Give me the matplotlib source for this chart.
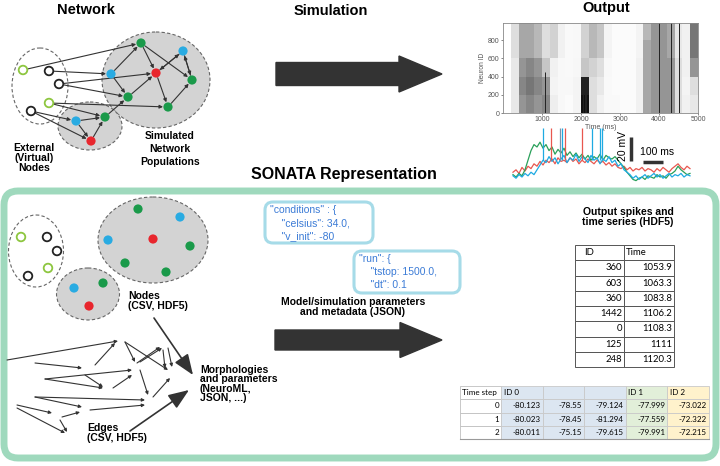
import numpy as np
import matplotlib.pyplot as plt
from matplotlib.patches import Ellipse, Circle, FancyBboxPatch, FancyArrowPatch, Rectangle

plt.rcParams['font.family'] = ['Liberation Sans', 'DejaVu Sans']

# ---------------- data ----------------
# top network: nodes (x, y, kind); kinds: G/K = open external, g/b/r = filled
net_nodes = [(23, 70, 'G'), (49, 71, 'K'), (59, 84, 'K'), (49, 103, 'G'), (31, 111, 'K'),
             (141, 43, 'g'), (183, 51, 'b'), (156, 73, 'r'), (111, 74, 'b'), (192, 80, 'g'),
             (128, 97, 'g'), (168, 107, 'g'), (76, 121, 'b'), (105, 117, 'g'), (91, 141, 'r')]
net_edges = [(0, 5), (1, 8), (2, 7), (2, 10), (3, 11), (3, 13), (4, 12), (4, 14),
             (5, 7), (8, 5), (5, 9), (7, 6), (6, 7), (6, 9), (9, 6), (8, 10), (10, 7),
             (7, 11), (11, 9), (13, 10), (12, 13), (14, 13), (12, 14)]
net_groups = [(40, 86, 56, 76, 'white'), (156, 80, 108, 96, '#d3d3d3'), (90, 126, 64, 48, '#d3d3d3')]

# bottom-left nodes
bl_nodes = [(21, 237, 'G'), (47, 237, 'K'), (57, 251, 'K'), (48, 268, 'G'), (28, 276, 'K'),
            (138, 209, 'g'), (180, 217, 'b'), (108, 240, 'b'), (153, 239, 'r'), (190, 246, 'g'),
            (125, 263, 'g'), (166, 272, 'g'), (74, 288, 'b'), (103, 283, 'g'), (89, 306, 'r')]
bl_groups = [(36, 251, 55, 72, 'white'), (153, 240, 110, 86, '#d3d3d3'), (88, 294, 63, 52, '#d3d3d3')]
bl_edges = [(7, 360, 118, 341), (35, 363, 82, 368), (45, 379, 132, 370), (45, 379, 103, 388),
            (35, 397, 82, 407), (35, 397, 145, 400), (17, 405, 52, 413), (17, 408, 65, 433),
            (90, 410, 145, 405), (62, 417, 80, 412), (60, 420, 67, 432), (95, 365, 115, 343),
            (125, 342, 135, 362), (125, 342, 168, 370), (137, 363, 160, 347), (140, 362, 162, 348),
            (163, 350, 165, 368), (168, 348, 172, 367), (140, 370, 148, 395), (153, 397, 170, 378),
            (113, 388, 132, 375), (85, 375, 103, 387)]

# raster density (rows: neuron bins of 200, cols: time bins of 200 ms)
raster_density = np.array([
    [0, .15, .45, .50, .45, .50, .12, .05, .03, .08, .85, .20, .10, .04, .04, .03, .03, .10, .40, .45, .45, .45, .20, .10, .15],
    [0, .15, .50, .55, .50, .45, .08, .05, .05, .08, .80, .20, .15, .04, .03, .03, .03, .10, .40, .45, .45, .45, .20, .08, .20],
    [0, .15, .45, .50, .45, .30, .10, .05, .04, .06, .30, .25, .20, .05, .03, .03, .03, .10, .40, .45, .45, .45, .20, .10, .45],
    [0, .20, .40, .40, .35, .20, .25, .10, .04, .05, .25, .35, .30, .08, .03, .03, .03, .08, .40, .45, .45, .40, .15, .10, .55],
    [0, .20, .40, .40, .35, .20, .25, .10, .04, .05, .25, .35, .30, .08, .03, .03, .03, .08, .35, .45, .45, .40, .15, .10, .55],
])
burst_times = [1080, 2060, 2100, 2140, 4000, 4300, 4520]
burst_tops = [450, 400, 380, 400, 1000, 1000, 1000]

# membrane traces (mV above rest, sampled every 15 ms)
trace_step = 15
trace_cyan = [1, -1, 2, 0, 3, 1, 4, 2, 6, 10, 14, 12, 17, 13, 16, 11, 15, 18, 12, 16, 14, 19, 13, 17, 15, 12, 18, 14, 16, 11,
              15, 13, 17, 12, 14, 9, 11, 6, 4, 2, -1, 1, -2, 0, 2, -1, 1, 3, 0, 2, -1, 1, 3, 0, 2, 1, 3, 0, 2, 1]
trace_green = [2, 0, 3, 1, 6, 14, 22, 27, 25, 29, 24, 27, 22, 25, 19, 23, 20, 24, 18, 21, 17, 20, 16, 19, 15, 18, 14, 17, 15, 19,
               14, 18, 16, 15, 17, 14, 11, 8, 4, 1, -2, -3, -1, 0, -2, 1, 0, -1, 2, 0, 1, -1, 2, 3, 5, 9, 6, 4, 2, 3]
trace_red = [4, 6, 3, 8, 5, 9, 7, 11, 9, 13, 10, 14, 12, 15, 11, 16, 13, 14, 12, 16, 13, 15, 11, 14, 12, 15, 13, 11, 14, 12,
             13, 10, 12, 9, 11, 8, 7, 9, 6, 8, 5, 7, 6, 8, 5, 7, 6, 4, 7, 5, 8, 6, 4, 7, 9, 11, 8, 6, 9, 7]
spike_t = [150, 245, 395, 435, 445, 235, 190, 260, 345]
spike_c = ['#1eaae2'] * 5 + ['#8090a8'] + ['#e8574f'] * 3

# spike table
spike_ids = [360, 603, 360, 1442, 0, 125, 248]
spike_times = [1053.9, 1063.3, 1083.8, 1106.2, 1108.3, 1111, 1120.3]

# time-series table
ts_steps = [0, 1, 2]
ts_headers = ['ID 0', '', '', 'ID 1', 'ID 2']
ts_values = [[-80.123, -78.55, -79.124, -77.999, -73.022],
             [-80.023, -78.45, -81.294, -77.559, -72.322],
             [-80.011, -75.15, -79.615, -79.991, -72.215]]
ts_fills = ['#dce6f1', '#dce6f1', '#dce6f1', '#e2efd9', '#fff2cc']

json_cond = ['"conditions" : {', '    "celsius": 34.0,', '    "v_init": -80']
json_run = ['"run": {', '    "tstop: 1500.0,', '    "dt": 0.1']

node_col = {'g': '#1a9a4a', 'b': '#29abe2', 'r': '#e8262d', 'G': '#8dc63f', 'K': '#222222'}
dark = '#333333'

# ---------------- figure ----------------
fig = plt.figure(figsize=(7.2, 4.66), dpi=100)
ax = fig.add_axes([0, 0, 1, 1])
ax.set_xlim(0, 720)
ax.set_ylim(466, 0)
ax.axis('off')


def draw_groups(groups):
    for x, y, w, h, fc in groups:
        ax.add_patch(Ellipse((x, y), w, h, fc=fc, ec='#666666', lw=0.8, ls=(0, (3, 2)), zorder=1))


def draw_nodes(nodes):
    for x, y, k in nodes:
        if k in 'GK':
            ax.add_patch(Circle((x, y), 4.3, fc='white', ec=node_col[k], lw=1.3, zorder=4))
        else:
            ax.add_patch(Circle((x, y), 4.6, fc=node_col[k], ec='none', zorder=4))


def arrow(p, q, ms=5, lw=0.8, shrink=0, style='-|>', z=3):
    ax.add_patch(FancyArrowPatch(p, q, arrowstyle=style, mutation_scale=ms, lw=lw,
                                 color=dark, shrinkA=shrink, shrinkB=shrink, zorder=z))


# top network
draw_groups(net_groups)
for a, b in net_edges:
    p = net_nodes[a][:2]
    q = net_nodes[b][:2]
    arrow(p, q, shrink=3.6)
draw_nodes(net_nodes)

ax.text(86, 10, 'Network', ha='center', va='center', fontsize=10.5, fontweight='bold')
ax.text(331, 11, 'Simulation', ha='center', va='center', fontsize=10.5, fontweight='bold')
ax.text(606, 8, 'Output', ha='center', va='center', fontsize=10.5, fontweight='bold')
ax.text(34, 158, 'External\n(Virtual)\nNodes', ha='center', va='center', fontsize=7.5,
        fontweight='bold', linespacing=1.0)
ax.text(170, 149, 'Simulated\nNetwork\nPopulations', ha='center', va='center', fontsize=7.5,
        fontweight='bold', linespacing=1.35)

# big arrows
ax.arrow(276, 74, 166, 0, width=23, head_width=36, head_length=43, length_includes_head=True,
         color=dark, zorder=2)
ax.arrow(275, 340, 167, 0, width=20, head_width=35, head_length=42, length_includes_head=True,
         color=dark, zorder=2)

# raster plot
rax = fig.add_axes([503 / 720, 1 - 113 / 466, 195 / 720, 90 / 466])
rax.imshow(raster_density, cmap='Greys', vmin=0, vmax=0.9, aspect='auto', origin='lower',
           extent=[0, 5000, 0, 1000], interpolation='nearest')
rax.vlines(burst_times, 0, burst_tops, color='#222222', lw=0.7)
rax.set_xlim(0, 5000)
rax.set_ylim(0, 990)
rax.set_xticks([1000, 2000, 3000, 4000, 5000])
rax.set_yticks([0, 200, 400, 600, 800])
rax.tick_params(labelsize=5, length=1.5, width=0.5, pad=1, colors='#555555')
rax.set_xlabel('Time (ms)', fontsize=5, labelpad=0.5, color='#555555')
rax.set_ylabel('Neuron ID', fontsize=4.8, labelpad=1, color='#555555')
for s in rax.spines.values():
    s.set_color('#888888')
    s.set_linewidth(0.6)

# traces
tax = fig.add_axes([510 / 720, 1 - 187 / 466, 185 / 720, 62 / 466])
tax.set_xlim(-15, 910)
tax.set_ylim(-8.3, 43.3)
tax.axis('off')
for vals, c in [(trace_red, '#e8574f'), (trace_green, '#2aa05a'), (trace_cyan, '#1eaae2')]:
    t = np.arange(len(vals)) * trace_step
    tax.plot(t, vals, color=c, lw=0.9)
tax.vlines(spike_t, 14, 41, colors=spike_c, lw=0.9)
tax.plot([590, 590], [13, 33], color=dark, lw=2.5, solid_capstyle='butt')
tax.plot([650, 750], [12.8, 12.8], color=dark, lw=2.5, solid_capstyle='butt')
tax.text(548, 26, '20 mV', rotation=90, ha='center', va='center', fontsize=7.5)
tax.text(722, 20.5, '100 ms', ha='center', va='center', fontsize=7.5)

# SONATA frame
ax.text(344, 174, 'SONATA Representation', ha='center', va='center', fontsize=11.5, fontweight='bold')
ax.add_patch(FancyBboxPatch((4, 191), 712, 267, boxstyle='round,pad=0,rounding_size=14',
                            fc='none', ec='#9fd9bd', lw=5, zorder=0.5))

# bottom-left nodes and edges
draw_groups(bl_groups)
draw_nodes(bl_nodes)
for x1, y1, x2, y2 in bl_edges:
    arrow((x1, y1), (x2, y2), ms=4.5, lw=0.8)

ax.text(128, 301, 'Nodes\n(CSV, HDF5)', ha='left', va='center', fontsize=7.5, fontweight='bold',
        linespacing=0.95)
ax.text(87, 433, 'Edges\n(CSV, HDF5)', ha='left', va='center', fontsize=7.5, fontweight='bold',
        linespacing=0.95)
ax.text(200, 384, 'Morphologies\nand parameters\n(NeuroML,\nJSON, ...)', ha='left', va='center',
        fontsize=7.5, fontweight='bold', linespacing=0.95)
arrow((154, 318), (193, 375), ms=14, lw=1.2, style='-|>,head_length=0.9,head_width=0.35')
arrow((130, 431), (189, 390), ms=14, lw=1.2, style='-|>,head_length=0.9,head_width=0.35')

# JSON boxes
for (x0, y0, w, h), lines in [((265, 202, 108, 41), json_cond), ((354, 251, 106, 42), json_run)]:
    ax.add_patch(FancyBboxPatch((x0, y0), w, h, boxstyle='round,pad=0,rounding_size=8',
                                fc='white', ec='#a6dbe8', lw=2.2, zorder=2))
    for i, line in enumerate(lines):
        ax.text(x0 + 5, y0 + 8 + i * 13, line, ha='left', va='center', fontsize=7.5,
                color='#3b7bd6', zorder=3)

ax.text(353, 307, 'Model/simulation parameters\nand metadata (JSON)', ha='center', va='center',
        fontsize=7.5, fontweight='bold', linespacing=1.0)
ax.text(628, 217, 'Output spikes and\ntime series (HDF5)', ha='center', va='center',
        fontsize=7.5, fontweight='bold', linespacing=1.0)

# spike table
tfont = ['Lato', 'DejaVu Sans']
sx0, sx1, sx2 = 575, 624, 674
sy0, rh = 245, 15.25
for r in range(len(spike_ids) + 1):
    y = sy0 + r * rh
    ax.add_patch(Rectangle((sx0, y), sx1 - sx0, rh, fc='white', ec='#555555', lw=0.7, zorder=2))
    ax.add_patch(Rectangle((sx1, y), sx2 - sx1, rh, fc='white', ec='#555555', lw=0.7, zorder=2))
ax.text(sx0 + 9, sy0 + rh / 2, 'ID', ha='left', va='center', fontsize=6.8, family=tfont, zorder=3)
ax.text(sx1 + 2, sy0 + rh / 2, 'Time', ha='left', va='center', fontsize=6.8, family=tfont, zorder=3)
for i, (sid, st) in enumerate(zip(spike_ids, spike_times)):
    y = sy0 + (i + 1.5) * rh
    ax.text(sx1 - 2, y, f'{sid}', ha='right', va='center', fontsize=6.8, family=tfont, zorder=3)
    ax.text(sx2 - 2, y, f'{st:g}', ha='right', va='center', fontsize=6.8, family=tfont, zorder=3)

# time-series table
cx0, cw = 459.5, 41.5
ty0, th = 386, 13.3
for r in range(len(ts_steps) + 1):
    y = ty0 + r * th
    ax.add_patch(Rectangle((cx0, y), cw, th, fc='white', ec='#bfbfbf', lw=0.6, zorder=2))
    for c, fc in enumerate(ts_fills):
        ax.add_patch(Rectangle((cx0 + (c + 1) * cw, y), cw, th, fc=fc, ec='#c9c9c9', lw=0.6, zorder=2))
ax.plot([cx0, cx0 + 6 * cw], [ty0 + 4 * th] * 2, color='#9a9a9a', lw=0.8, zorder=3)
ax.text(cx0 + 2, ty0 + th / 2, 'Time step', ha='left', va='center', fontsize=5.8, family=tfont, zorder=3)
for c, hd in enumerate(ts_headers):
    ax.text(cx0 + (c + 1) * cw + 3, ty0 + th / 2, hd, ha='left', va='center', fontsize=5.8,
            family=tfont, zorder=3)
for r, (step, row) in enumerate(zip(ts_steps, ts_values)):
    y = ty0 + (r + 1.5) * th
    ax.text(cx0 + cw - 2, y, f'{step}', ha='right', va='center', fontsize=5.8, family=tfont, zorder=3)
    for c, v in enumerate(row):
        ax.text(cx0 + (c + 2) * cw - 2, y, f'{v:g}', ha='right', va='center', fontsize=5.8,
                family=tfont, zorder=3)

fig.savefig('out.png', dpi=100)
